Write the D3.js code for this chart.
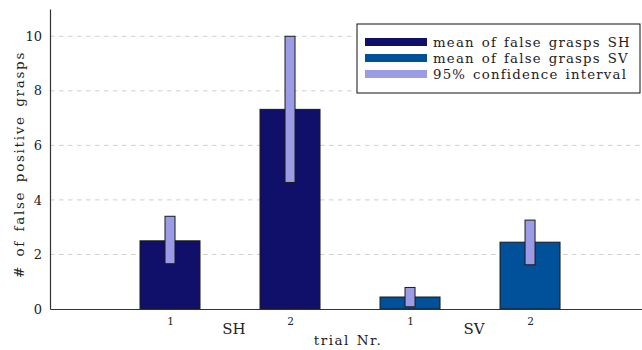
<!DOCTYPE html>
<html>
<head>
<meta charset="utf-8">
<script src="https://cdn.jsdelivr.net/npm/d3@7"></script>
<style>
  body { margin: 0; background: #fff; }
  svg text { font-family: "DejaVu Serif" !important; fill: #222; }
</style>
</head>
<body>
<div class="chart"></div>
<script>
// data
const groups = ["SH", "SH", "SV", "SV"];
const trials = ["1", "2", "1", "2"];
const means = [2.5, 7.32, 0.44, 2.45];
const ciLow = [1.66, 4.64, 0.08, 1.62];
const ciHigh = [3.4, 10.0, 0.79, 3.26];
const yTicks = [0, 2, 4, 6, 8, 10];
const legendLabels = ["mean of false grasps SH", "mean of false grasps SV", "95% confidence interval"];

const colors = {SH: "#10106a", SV: "#00509a", ci: "#9c9ce6"};

const width = 642, height = 350;
const margin = {top: 9, right: 0, bottom: 41, left: 50};

const svg = d3.select(".chart").append("svg")
    .attr("width", width)
    .attr("height", height);

// positions 1..4 are the bars
const x = d3.scaleLinear().domain([0, 4.933]).range([margin.left, width]);
const y = d3.scaleLinear().domain([0, 11]).range([height - margin.bottom, margin.top]);
const barW = x(0.5) - x(0);
const ciW = 10;

// grid
svg.append("g").selectAll("line")
    .data(yTicks.filter(d => d > 0))
  .enter().append("line")
    .attr("x1", margin.left).attr("x2", width)
    .attr("y1", d => y(d)).attr("y2", d => y(d))
    .attr("stroke", "#cfcfcf")
    .attr("stroke-width", 1)
    .attr("stroke-dasharray", "4.5,4.5");

// bars
svg.append("g").selectAll("rect")
    .data(means)
  .enter().append("rect")
    .attr("x", (d, i) => x(i + 1) - barW / 2)
    .attr("y", d => y(d))
    .attr("width", barW)
    .attr("height", d => y(0) - y(d))
    .attr("fill", (d, i) => colors[groups[i]])
    .attr("stroke", "#1a1a1a")
    .attr("stroke-width", 1);

// confidence intervals
svg.append("g").selectAll("rect")
    .data(means)
  .enter().append("rect")
    .attr("x", (d, i) => x(i + 1) - ciW / 2)
    .attr("y", (d, i) => y(ciHigh[i]))
    .attr("width", ciW)
    .attr("height", (d, i) => y(ciLow[i]) - y(ciHigh[i]))
    .attr("fill", colors.ci)
    .attr("stroke", "#1a1a1a")
    .attr("stroke-width", 1);

// axes
const yAxis = d3.axisLeft(y).tickValues(yTicks).tickSize(0).tickPadding(8);
const yg = svg.append("g")
    .attr("transform", "translate(" + margin.left + ",0)")
    .call(yAxis);
yg.select(".domain").attr("stroke", "#333").attr("stroke-width", 1.2);
yg.selectAll("text").style("font-size", "13px").attr("fill", "#222");

const xAxis = d3.axisBottom(x).tickValues([1, 2, 3, 4])
    .tickSize(0).tickPadding(9)
    .tickFormat((d, i) => trials[i]);
const xg = svg.append("g")
    .attr("transform", "translate(0," + y(0) + ")")
    .call(xAxis);
xg.select(".domain").attr("stroke", "#333").attr("stroke-width", 1.2);
xg.selectAll("text").style("font-size", "10.5px").attr("fill", "#222");

// group labels
const groupNames = ["SH", "SV"];
svg.append("g").selectAll("text")
    .data(groupNames)
  .enter().append("text")
    .attr("x", (d, i) => x(i * 2 + 1.5) + 4)
    .attr("y", 334)
    .attr("text-anchor", "middle")
    .style("font-size", "15px")
    .text(d => d);

svg.append("text")
    .attr("x", 348)
    .attr("y", 345)
    .attr("text-anchor", "middle")
    .style("font-size", "13.5px")
    .style("letter-spacing", "1.5px")
    .style("word-spacing", "1px")
    .text("trial Nr.");

svg.append("text")
    .attr("transform", "translate(24," + (y(5.3)) + ") rotate(-90)")
    .attr("text-anchor", "middle")
    .style("font-size", "13.5px")
    .style("letter-spacing", "1.7px")
    .style("word-spacing", "2.5px")
    .text("# of false positive grasps");

// legend
const legend = svg.append("g").attr("transform", "translate(357,24)");
legend.append("rect")
    .attr("width", 283).attr("height", 69)
    .attr("fill", "#fff")
    .attr("stroke", "#111")
    .attr("stroke-width", 1);
const legendColors = [colors.SH, colors.SV, colors.ci];
legendLabels.forEach((label, i) => {
  legend.append("rect")
      .attr("x", 8).attr("y", 14 + i * 16)
      .attr("width", 62).attr("height", 8)
      .attr("fill", legendColors[i]);
  legend.append("text")
      .attr("x", 76).attr("y", 22.5 + i * 16)
      .style("font-size", "13.3px")
      .style("letter-spacing", "1.2px")
      .style("word-spacing", "1.5px")
      .text(label);
});
</script>
</body>
</html>
